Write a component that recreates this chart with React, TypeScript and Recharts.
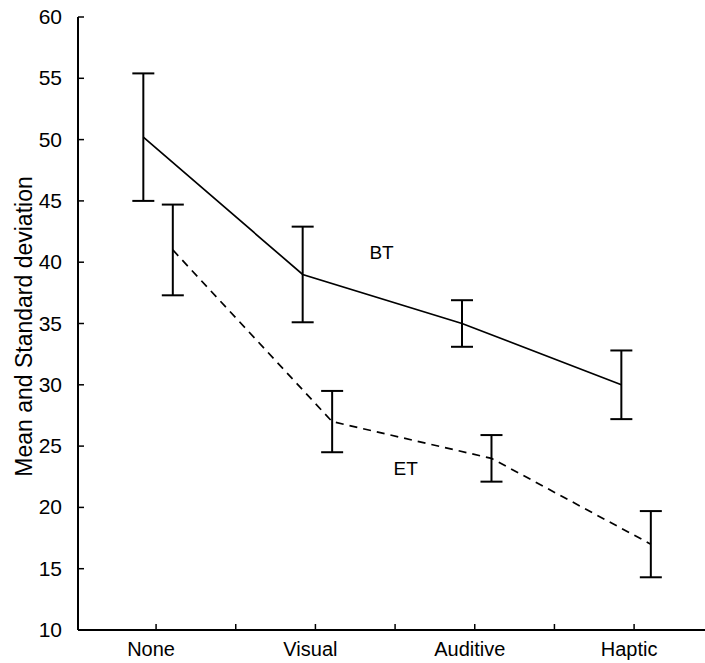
import React from "react";
import {
  LineChart,
  Line,
  XAxis,
  YAxis,
  ErrorBar,
  ReferenceDot,
} from "recharts";

// condition names, in x order
const categories = ["None", "Visual", "Auditive", "Haptic"];

// BT = solid line, ET = dashed line
const btMean = [50.2, 39, 35, 30];
const btSd = [5.2, 3.9, 1.9, 2.8];
const etMean = [41, 27, 24, 17];
const etSd = [3.7, 2.5, 1.9, 2.7];

const yTicks = [10, 15, 20, 25, 30, 35, 40, 45, 50, 55, 60];
const xTicks = [1, 1.5, 2, 2.5, 3, 3.5, 4];

// the two series are drawn a bit apart around each category
const BT_SHIFT = -0.08;
const ET_SHIFT = 0.105;

const btData = btMean.map((m, i) => ({ x: i + 1 + BT_SHIFT, y: m, err: btSd[i] }));
const etData = etMean.map((m, i) => ({ x: i + 1 + ET_SHIFT, y: m, err: etSd[i] }));

const FONT = '"Liberation Sans", Arial, sans-serif';

const BottomTick = (props: any) => {
  const { x, y, payload } = props;
  const v = payload.value;
  const label = Number.isInteger(v) ? categories[v - 1] : "";
  return (
    <g>
      <line x1={x} x2={x} y1={y} y2={y - 6} stroke="#000" strokeWidth={1.5} />
      {label && (
        <text x={x - 5} y={y + 26} textAnchor="middle" fontSize={20} fontFamily={FONT} fill="#000">
          {label}
        </text>
      )}
    </g>
  );
};

const TopTick = (props: any) => {
  const { x, y } = props;
  return <line x1={x} x2={x} y1={y} y2={y + 6} stroke="#000" strokeWidth={1.5} />;
};

const LeftTick = (props: any) => {
  const { x, y, payload } = props;
  return (
    <g>
      <line x1={x} x2={x + 6} y1={y} y2={y} stroke="#000" strokeWidth={1.5} />
      <text x={x - 16} y={y + 7} textAnchor="end" fontSize={21} fontFamily={FONT} fill="#000">
        {payload.value}
      </text>
    </g>
  );
};

const YLabel = (props: any) => {
  const { viewBox } = props;
  const cy = viewBox.y + viewBox.height / 2 + 3;
  const cx = 24;
  return (
    <text
      x={cx}
      y={cy}
      transform={`rotate(-90, ${cx}, ${cy})`}
      textAnchor="middle"
      dominantBaseline="central"
      fontSize={23}
      fontFamily={FONT}
      fill="#000"
    >
      Mean and Standard deviation
    </text>
  );
};

export default function App() {
  return (
    <div style={{ position: "absolute", left: 0, top: 0, width: 705, height: 663, background: "#fff" }}>
      <LineChart width={705} height={663} margin={{ top: 17, right: 0, bottom: 0, left: 0 }}>
        <XAxis
          dataKey="x"
          type="number"
          domain={[0.51, 4.445]}
          allowDataOverflow
          ticks={xTicks}
          interval={0}
          height={33}
          tickSize={0}
          tickMargin={0}
          tick={<BottomTick />}
          axisLine={{ stroke: "#000", strokeWidth: 2 }}
          tickLine={false}
        />
        <XAxis
          xAxisId="top"
          orientation="top"
          dataKey="x"
          type="number"
          domain={[0.51, 4.445]}
          allowDataOverflow
          ticks={xTicks}
          interval={0}
          height={0}
          tickSize={0}
          tickMargin={0}
          tick={<TopTick />}
          axisLine={{ stroke: "#000", strokeWidth: 2.5 }}
          tickLine={false}
        />
        <YAxis
          type="number"
          domain={[10, 60]}
          ticks={yTicks}
          interval={0}
          width={78}
          tickSize={0}
          tickMargin={0}
          tick={<LeftTick />}
          axisLine={{ stroke: "#000", strokeWidth: 2 }}
          tickLine={false}
          label={<YLabel />}
        />
        <Line
          data={btData}
          dataKey="y"
          stroke="#000"
          strokeWidth={1.7}
          dot={false}
          isAnimationActive={false}
        >
          <ErrorBar dataKey="err" direction="y" width={11} stroke="#000" strokeWidth={2} />
        </Line>
        <Line
          data={etData}
          dataKey="y"
          stroke="#000"
          strokeWidth={1.7}
          strokeDasharray="8 6"
          dot={false}
          isAnimationActive={false}
        >
          <ErrorBar dataKey="err" direction="y" width={11} stroke="#000" strokeWidth={2} />
        </Line>
        <ReferenceDot
          x={2.415}
          y={40.8}
          r={0}
          fill="none"
          stroke="none"
          label={{ value: "BT", position: "center", fontSize: 19, fontFamily: FONT, fill: "#000" }}
        />
        <ReferenceDot
          x={2.566}
          y={23.2}
          r={0}
          fill="none"
          stroke="none"
          label={{ value: "ET", position: "center", fontSize: 19, fontFamily: FONT, fill: "#000" }}
        />
      </LineChart>
    </div>
  );
}
